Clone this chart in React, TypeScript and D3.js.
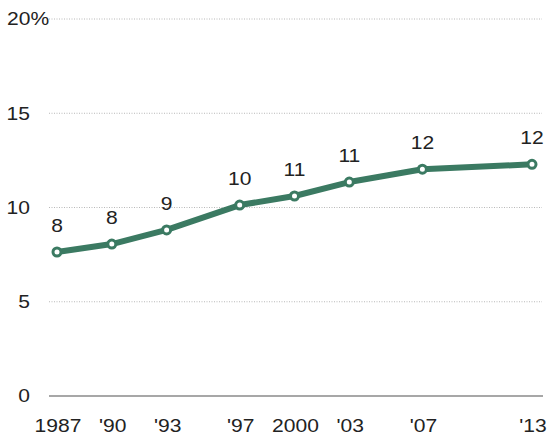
import React from "react";
import * as d3 from "d3";

const years = [1987, 1990, 1993, 1997, 2000, 2003, 2007, 2013];
const values = [7.64, 8.06, 8.81, 10.13, 10.61, 11.35, 12.03, 12.29];
const valueLabels = ["8", "8", "9", "10", "11", "11", "12", "12"];
const yearLabels = ["1987", "'90", "'93", "'97", "2000", "'03", "'07", "'13"];
const yTicks = [0, 5, 10, 15, 20];

const W = 552;
const H = 437;
const GREEN = "#3b7a62";
const FONT = "'Liberation Sans', Arial, sans-serif";
const SX = 1.17;

function T(props: { x: number; y: number; anchor: string; children: string; dy?: string }) {
  return (
    <text
      transform={`translate(${props.x},${props.y}) scale(${SX},1)`}
      dy={props.dy}
      textAnchor={props.anchor}
      fontSize={18}
      fill="#222"
    >
      {props.children}
    </text>
  );
}

export default function App() {
  const x = d3.scaleLinear().domain([1987, 2013]).range([57, 532]);
  const y = d3.scaleLinear().domain([0, 20]).range([396, 19]);
  const line = d3
    .line<number>()
    .x((_, i) => x(years[i]))
    .y((d) => y(d))
    .curve(d3.curveLinear);

  return (
    <svg
      width={W}
      height={H}
      style={{ position: "absolute", left: 0, top: 0, background: "#fff" }}
      fontFamily={FONT}
    >
      {yTicks.map((t) =>
        t === 0 ? null : (
          <line
            key={"g" + t}
            x1={49}
            x2={542}
            y1={y(t)}
            y2={y(t)}
            stroke="#b8b8b8"
            strokeWidth={1}
            strokeDasharray="1,1.5"
          />
        )
      )}
      <line x1={49} x2={543} y1={y(0)} y2={y(0)} stroke="#8a8a8a" strokeWidth={1.5} />
      {yTicks.map((t) => (
        <T key={"yl" + t} x={t === 20 ? 7 : 30} y={y(t)} dy="0.36em" anchor={t === 20 ? "start" : "end"}>
          {t === 20 ? "20%" : String(t)}
        </T>
      ))}
      <path d={line(values) || ""} fill="none" stroke={GREEN} strokeWidth={6} strokeLinejoin="round" strokeLinecap="round" />
      {values.map((v, i) => (
        <circle key={"c" + i} cx={x(years[i])} cy={y(v)} r={4} fill="#fff" stroke={GREEN} strokeWidth={3} />
      ))}
      {values.map((v, i) => (
        <T key={"v" + i} x={x(years[i])} y={y(v) - 20} anchor="middle">
          {valueLabels[i]}
        </T>
      ))}
      {yearLabels.map((l, i) => (
        <T key={"x" + i} x={x(years[i]) + 1} y={432} anchor="middle">
          {l}
        </T>
      ))}
    </svg>
  );
}
